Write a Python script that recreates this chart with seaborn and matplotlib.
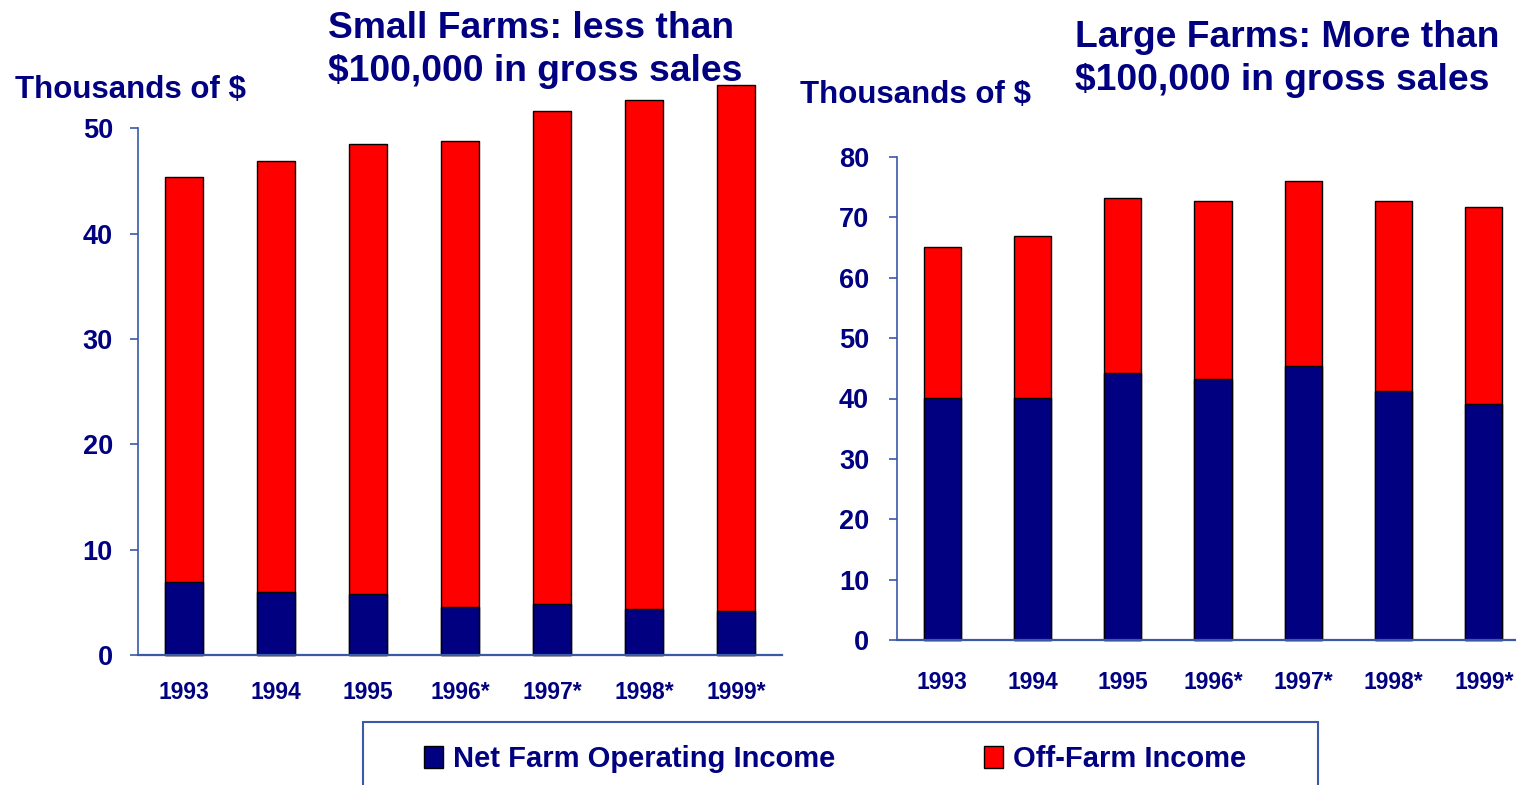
import matplotlib
matplotlib.use("Agg")
import matplotlib.pyplot as plt
from matplotlib.patches import Patch, Rectangle
import seaborn as sns
import pandas as pd

years = ["1993", "1994", "1995", "1996*", "1997*", "1998*", "1999*"]
small_total = [45.4, 46.9, 48.5, 48.8, 51.6, 52.7, 54.1]
small_net = [6.9, 6.0, 5.8, 4.6, 4.85, 4.4, 4.15]
large_total = [65.1, 66.9, 73.2, 72.7, 76.0, 72.7, 71.7]
large_net = [40.1, 40.1, 44.2, 43.2, 45.4, 41.2, 39.1]
small_yticks = [0, 10, 20, 30, 40, 50]
large_yticks = [0, 10, 20, 30, 40, 50, 60, 70, 80]

NAVY = "#000080"
RED = "#FF0000"
SPINE = "#3a5aa8"

sns.set_style("white")
plt.rcParams["font.family"] = ["Liberation Sans", "DejaVu Sans"]

W, H = 1516, 785
fig = plt.figure(figsize=(W / 100, H / 100), dpi=100)


def fx(px):
    return px / W


def fy(py):
    return 1 - py / H


def panel(rect, total, net, yticks, ylim, ytop, ypad, xpad):
    ax = fig.add_axes(rect)
    ax.set_zorder(1)
    ax.patch.set_alpha(0)
    df_t = pd.DataFrame({"year": years, "value": total})
    df_n = pd.DataFrame({"year": years, "value": net})
    sns.barplot(data=df_t, x="year", y="value", order=years, color=RED,
                saturation=1, width=0.41, edgecolor="black", linewidth=1,
                errorbar=None, ax=ax)
    sns.barplot(data=df_n, x="year", y="value", order=years, color=NAVY,
                saturation=1, width=0.41, edgecolor="black", linewidth=1,
                errorbar=None, ax=ax)
    ax.set_xlim(-0.5, 6.5)
    ax.set_ylim(*ylim)
    ax.set_yticks(yticks)
    ax.set_xlabel("")
    ax.set_ylabel("")
    for s in ["top", "right"]:
        ax.spines[s].set_visible(False)
    ax.spines["left"].set_bounds(0, ytop)
    ax.spines["left"].set_color(SPINE)
    ax.spines["bottom"].set_color(SPINE)
    ax.spines["left"].set_linewidth(1.2)
    ax.spines["bottom"].set_linewidth(1.6)
    ax.tick_params(axis="y", direction="out", length=6, width=1.2, color=SPINE,
                   left=True, pad=ypad, labelsize=19.5, labelcolor=NAVY)
    ax.tick_params(axis="x", length=0, pad=xpad, labelsize=16.5, labelcolor=NAVY)
    for lab in ax.get_xticklabels() + ax.get_yticklabels():
        lab.set_fontweight("bold")
    for p in ax.patches:
        p.set_clip_on(False)
    return ax


ax1 = panel([fx(138), 130 / H, fx(782) - fx(138), 590 / H], small_total, small_net,
            small_yticks, (0, 56), 50, 12, 19)
ax2 = panel([fx(897), 145 / H, fx(1529) - fx(897), 483 / H], large_total, large_net,
            large_yticks, (0, 80), 80, 14, 22)

tkw = dict(fontsize=26.8, fontweight="bold", color=NAVY, va="baseline", ha="left", zorder=0)
fig.text(fx(328), fy(38), "Small Farms: less than", **tkw)
fig.text(fx(328), fy(81), "$100,000 in gross sales", **tkw)
fig.text(fx(1075), fy(47), "Large Farms: More than", **tkw)
fig.text(fx(1075), fy(90), "$100,000 in gross sales", **tkw)

lkw = dict(fontsize=22.5, fontweight="bold", color=NAVY, va="baseline", ha="left")
fig.text(fx(15), fy(98), "Thousands of $", **lkw)
fig.text(fx(800), fy(103), "Thousands of $", **lkw)

box = Rectangle((fx(363), -0.05), fx(1318) - fx(363), fy(722) + 0.05,
                transform=fig.transFigure, fill=False, edgecolor=SPINE, linewidth=1.5)
fig.patches.append(box)

handles = [Patch(facecolor=NAVY, edgecolor="black", linewidth=1),
           Patch(facecolor=RED, edgecolor="black", linewidth=1)]
labels = ["Net Farm Operating Income", "Off-Farm Income"]
fig.legend(handles, labels, ncol=2, loc="center left",
           bbox_to_anchor=(fx(424), fy(759)), frameon=False,
           handlelength=0.65, handleheight=0.8, handletextpad=0.35,
           columnspacing=5.1, borderpad=0, borderaxespad=0,
           prop={"size": 21, "weight": "bold"}, labelcolor=NAVY)

fig.savefig("out.png", dpi=100)
